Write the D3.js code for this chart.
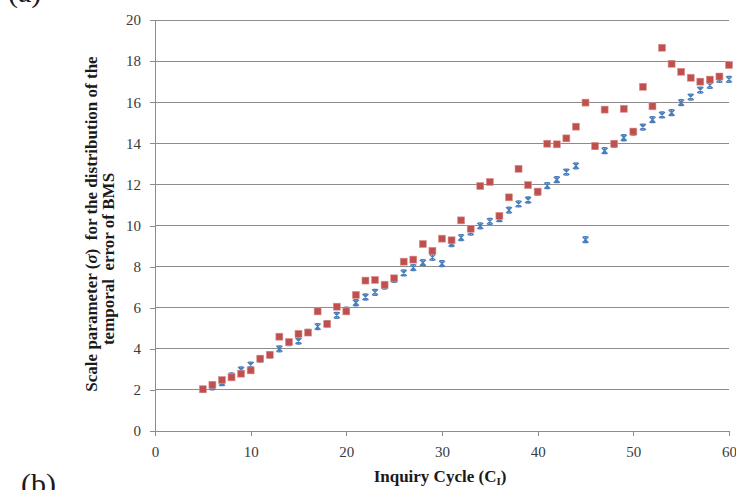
<!DOCTYPE html>
<html>
<head>
<meta charset="utf-8">
<script src="https://cdn.jsdelivr.net/npm/d3@7"></script>
<style>
  html, body { margin: 0; padding: 0; background: #fff; }
  svg { display: block; }
</style>
</head>
<body>
<script>
// ---- data ----
const cycles = [5,6,7,8,9,10,11,12,13,14,15,16,17,18,19,20,21,22,23,24,25,26,27,28,29,30,
  31,32,33,34,35,36,37,38,39,40,41,42,43,44,45,46,47,48,49,50,51,52,53,54,55,56,57,58,59,60];
const blueValues = [2.03,2.15,2.35,2.68,2.97,3.21,3.50,3.70,4.00,4.30,4.38,4.80,5.08,5.22,5.63,5.88,
  6.24,6.52,6.75,7.05,7.38,7.69,7.95,8.19,8.45,8.14,9.12,9.41,9.68,9.98,10.20,10.33,10.75,11.05,
  11.24,11.62,11.94,12.23,12.60,12.90,9.31,13.85,13.64,13.95,14.27,14.55,14.79,15.15,15.38,15.49,
  15.98,16.25,16.59,16.82,17.11,17.11];
const redValues = [2.03,2.25,2.48,2.61,2.79,2.95,3.52,3.71,4.59,4.33,4.73,4.79,5.82,5.21,6.05,5.82,
  6.62,7.32,7.35,7.12,7.43,8.24,8.34,9.10,8.77,9.36,9.28,10.25,9.84,11.92,12.12,10.47,11.37,12.76,
  11.97,11.65,13.98,13.95,14.24,14.81,15.98,13.87,15.64,13.98,15.68,14.57,16.75,15.80,18.65,17.87,
  17.48,17.19,17.00,17.10,17.25,17.81];
const xTicks = [0,10,20,30,40,50,60];
const yTicks = [0,2,4,6,8,10,12,14,16,18,20];

// ---- layout ----
const W = 736, H = 490;
const mLeft = 155, mRight = 729, mTop = 20, mBottom = 431;
const grid = "#8c8c8c";
const serif = "'Liberation Serif', 'DejaVu Serif', serif";

const svg = d3.select("body").append("svg").attr("width", W).attr("height", H);

const x = d3.scaleLinear().domain([0, 60]).range([mLeft, mRight]);
const y = d3.scaleLinear().domain([0, 20]).range([mBottom, mTop]);

// gridlines
svg.append("g").selectAll("line").data(yTicks.filter(d => d > 0)).join("line")
  .attr("x1", mLeft).attr("x2", mRight)
  .attr("y1", d => y(d)).attr("y2", d => y(d))
  .attr("stroke", grid).attr("stroke-width", 1).attr("shape-rendering", "crispEdges");

// y axis
const yAxis = svg.append("g").attr("transform", `translate(${mLeft},0)`)
  .call(d3.axisLeft(y).tickValues(yTicks).tickSize(5).tickPadding(9).tickSizeOuter(0));
// x axis
const xAxis = svg.append("g").attr("transform", `translate(0,${mBottom})`)
  .call(d3.axisBottom(x).tickValues(xTicks).tickSize(5).tickPadding(10).tickSizeOuter(0));

[yAxis, xAxis].forEach(g => {
  g.select(".domain").attr("stroke", grid).attr("shape-rendering", "crispEdges");
  g.selectAll(".tick line").attr("stroke", grid).attr("shape-rendering", "crispEdges");
  g.selectAll(".tick text").attr("font-family", serif).attr("font-size", 15).attr("fill", "#3a3a3a");
});

// blue markers (drawn first, beneath red)
const bluePts = cycles.map((c, i) => ({ c, v: blueValues[i] }));
const redPts = cycles.map((c, i) => ({ c, v: redValues[i] }));
const s = 3;
const starPath = `M${-s},${-s}L${s},${s}M${s},${-s}L${-s},${s}M${-s+1},${-s}L${s-1},${-s}M${-s+1},${s}L${s-1},${s}M0,${-s}L0,${s}`;
svg.append("g").selectAll("path").data(bluePts).join("path")
  .attr("transform", d => `translate(${x(d.c)},${y(d.v)})`)
  .attr("d", starPath)
  .attr("fill", "none").attr("stroke", "#4a7ebb").attr("stroke-width", 1.3);

// red squares
const sq = 7;
svg.append("g").selectAll("rect").data(redPts).join("rect")
  .attr("x", d => x(d.c) - sq / 2).attr("y", d => y(d.v) - sq / 2)
  .attr("width", sq).attr("height", sq)
  .attr("fill", "#c0504d").attr("stroke", "#d99694").attr("stroke-width", 0.6);

// axis titles
const yt = svg.append("g").attr("font-family", serif).attr("font-weight", "bold")
  .attr("font-size", 17).attr("fill", "#1a1a1a").attr("text-anchor", "middle");
const l1 = yt.append("text").attr("transform", "translate(97,224) rotate(-90)");
l1.append("tspan").text("Scale parameter (");
l1.append("tspan").attr("font-style", "italic").text("σ");
l1.append("tspan").text(")\u00a0 for the distribution of the");
yt.append("text").attr("transform", "translate(114,259) rotate(-90)")
  .text("temporal\u00a0 error of BMS");

const xt = svg.append("text").attr("x", 440).attr("y", 482)
  .attr("font-family", serif).attr("font-weight", "bold").attr("font-size", 17)
  .attr("fill", "#1a1a1a").attr("text-anchor", "middle");
xt.append("tspan").text("Inquiry Cycle (C");
xt.append("tspan").attr("font-size", 11).attr("dy", 3).text("I");
xt.append("tspan").attr("dy", -3).text(")");

// panel labels (partially cut off, as in the source)
svg.append("text").attr("x", 8).attr("y", 1.5).attr("font-family", serif)
  .attr("font-size", 30).attr("fill", "#1a1a1a").text("(a)");
svg.append("text").attr("x", 21).attr("y", 494).attr("font-family", serif)
  .attr("font-size", 30).attr("fill", "#1a1a1a").text("(b)");
</script>
</body>
</html>
